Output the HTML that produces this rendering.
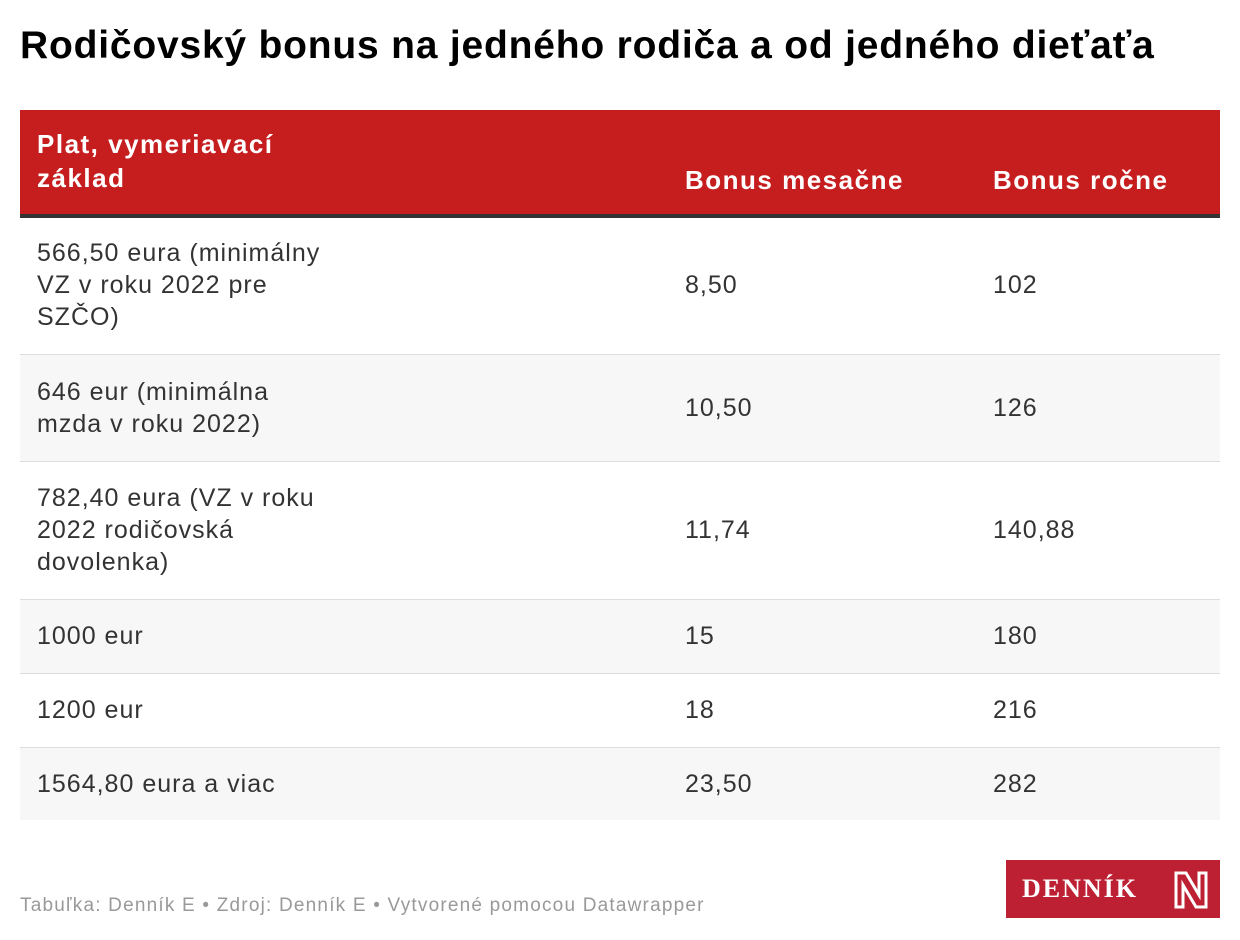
<!DOCTYPE html>
<html><head><meta charset="utf-8"><style>
*{margin:0;padding:0;box-sizing:border-box}
body{width:1240px;height:940px;background:#fff;font-family:"Liberation Sans",sans-serif;color:#222;position:relative;overflow:hidden}
.t{position:absolute;left:20px;top:24px;font-size:39px;font-weight:bold;color:#000;letter-spacing:0.8px}
.hd{position:absolute;left:20px;top:110px;width:1200px;background:#c61d1e;border-bottom:4px solid #333;height:108px}
.h{position:absolute;color:#fff;font-weight:bold;font-size:26px;line-height:34px;letter-spacing:1.5px}
.row{position:absolute;left:20px;width:1200px;border-bottom:1px solid #ddd}
.g{background:#f7f7f7}
.c{position:absolute;font-size:25px;line-height:32px;color:#333;letter-spacing:1px}
.src{position:absolute;left:20px;top:895px;font-size:19px;color:#999;letter-spacing:1.2px}
.logo{position:absolute;left:1006px;top:860px;width:214px;height:58px;background:#be2033;color:#fff}
</style></head><body>
<div class="t">Rodičovský bonus na jedného rodiča a od jedného dieťaťa</div>
<div class="hd">
<div class="h" style="left:17px;top:17px">Plat, vymeriavací<br>základ</div>
<div class="h" style="left:665px;top:53px">Bonus mesačne</div>
<div class="h" style="left:973px;top:53px">Bonus ročne</div>
</div>
<div class="row" style="top:218px;height:137px">
<div class="c" style="left:17px;top:19px">566,50 eura (minimálny<br>VZ v roku 2022 pre<br>SZČO)</div>
<div class="c" style="left:665px;top:51px">8,50</div><div class="c" style="left:973px;top:51px">102</div></div>
<div class="row g" style="top:355px;height:107px">
<div class="c" style="left:17px;top:21px">646 eur (minimálna<br>mzda v roku 2022)</div>
<div class="c" style="left:665px;top:37px">10,50</div><div class="c" style="left:973px;top:37px">126</div></div>
<div class="row" style="top:462px;height:138px">
<div class="c" style="left:17px;top:20px">782,40 eura (VZ v roku<br>2022 rodičovská<br>dovolenka)</div>
<div class="c" style="left:665px;top:52px">11,74</div><div class="c" style="left:973px;top:52px">140,88</div></div>
<div class="row g" style="top:600px;height:74px">
<div class="c" style="left:17px;top:20px">1000 eur</div>
<div class="c" style="left:665px;top:20px">15</div><div class="c" style="left:973px;top:20px">180</div></div>
<div class="row" style="top:674px;height:74px">
<div class="c" style="left:17px;top:20px">1200 eur</div>
<div class="c" style="left:665px;top:20px">18</div><div class="c" style="left:973px;top:20px">216</div></div>
<div class="row g" style="top:748px;height:72px;border:none">
<div class="c" style="left:17px;top:20px">1564,80 eura a viac</div>
<div class="c" style="left:665px;top:20px">23,50</div><div class="c" style="left:973px;top:20px">282</div></div>
<div class="src">Tabuľka: Denník E • Zdroj: Denník E • Vytvorené pomocou Datawrapper</div>
<div class="logo">
<div style="position:absolute;left:16px;top:14px;font-family:'Liberation Serif',serif;font-size:26px;letter-spacing:2px;font-weight:bold">DENNÍK</div>
<svg style="position:absolute;left:167px;top:10px" width="36" height="40" viewBox="0 0 36 40"><path d="M3 3H13L26 25V3H33V37H23L10 15V37H3Z" fill="none" stroke="#fff" stroke-width="3"/></svg>
</div>
</body></html>
